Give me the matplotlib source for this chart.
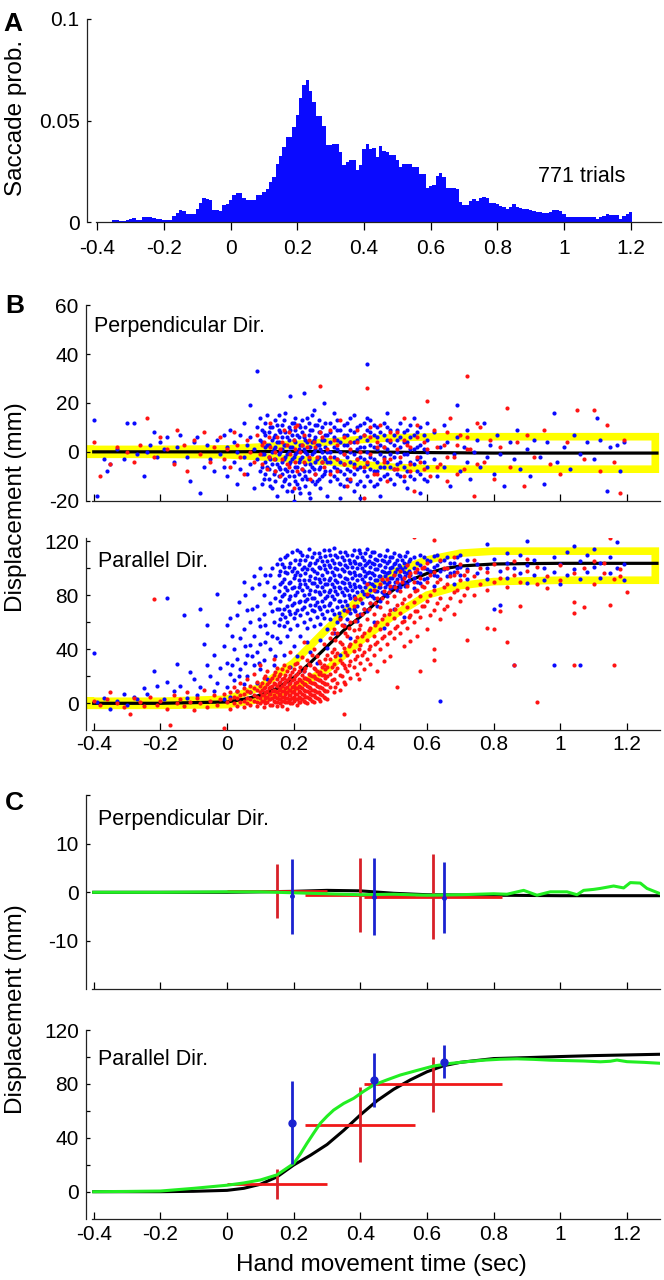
import matplotlib
matplotlib.use("Agg")
import matplotlib.pyplot as plt
import numpy as np

plt.rcParams["font.family"] = ["Liberation Sans", "DejaVu Sans"]

BLUE = "#0a0aff"
RED = "#ff1414"
GREEN = "#22ee22"
YELLOW = "#ffff00"

# ---------------- panel A : saccade probability histogram ----------------
hist_centers = np.round(np.arange(-0.35, 1.2051, 0.01), 2)
hist_prob = [
    0.0011, 0.0011, 0.0005, 0.0005, 0.0012, 0.0015, 0.0020, 0.0012, 0.0012, 0.0024,
    0.0025, 0.0025, 0.0022, 0.0018, 0.0018, 0.0010, 0.0010, 0.0010, 0.0030, 0.0045,
    0.0060, 0.0055, 0.0040, 0.0040, 0.0042, 0.0064, 0.0093, 0.0118, 0.0115, 0.0110,
    0.0060, 0.0060, 0.0056, 0.0085, 0.0090, 0.0110, 0.0134, 0.0146, 0.0145, 0.0118,
    0.0110, 0.0110, 0.0110, 0.0134, 0.0134, 0.0150, 0.0162, 0.0200, 0.0225, 0.0285,
    0.0326, 0.0372, 0.0420, 0.0420, 0.0467, 0.0528, 0.0610, 0.0675, 0.0700, 0.0646,
    0.0593, 0.0525, 0.0525, 0.0474, 0.0380, 0.0380, 0.0384, 0.0384, 0.0348, 0.0282,
    0.0298, 0.0307, 0.0307, 0.0257, 0.0282, 0.0360, 0.0384, 0.0360, 0.0364, 0.0323,
    0.0375, 0.0352, 0.0348, 0.0331, 0.0331, 0.0307, 0.0274, 0.0287, 0.0287, 0.0287,
    0.0274, 0.0274, 0.0238, 0.0238, 0.0167, 0.0180, 0.0184, 0.0230, 0.0244, 0.0225,
    0.0167, 0.0167, 0.0167, 0.0164, 0.0102, 0.0085, 0.0085, 0.0107, 0.0113, 0.0107,
    0.0118, 0.0126, 0.0118, 0.0097, 0.0097, 0.0089, 0.0080, 0.0074, 0.0064, 0.0077,
    0.0089, 0.0077, 0.0069, 0.0066, 0.0064, 0.0061, 0.0057, 0.0052, 0.0052, 0.0044,
    0.0044, 0.0052, 0.0061, 0.0061, 0.0056, 0.0041, 0.0028, 0.0028, 0.0028, 0.0028,
    0.0028, 0.0028, 0.0028, 0.0028, 0.0028, 0.0018, 0.0028, 0.0033, 0.0039, 0.0038,
    0.0038, 0.0038, 0.0018, 0.0033, 0.0041, 0.0051,
]

# ---------------- panel B : single trial saccade end points ----------------
perp_blue = [
    (-0.40, 13), (-0.39, -18), (-0.37, -3), (-0.36, -8), (-0.35, -5), (-0.33, 1), (-0.31, -3),
    (-0.30, 12), (-0.28, 12), (-0.27, -1), (-0.25, -10), (-0.24, 0), (-0.23, 3), (-0.22, 8),
    (-0.21, -2), (-0.20, 4), (-0.19, 1), (-0.18, 6), (-0.16, -4), (-0.15, 2), (-0.14, 7),
    (-0.12, -2), (-0.11, -12), (-0.10, 4), (-0.09, 6), (-0.08, -17), (-0.07, -6), (-0.06, 3),
    (-0.05, -3), (-0.04, -8), (-0.03, 5), (-0.02, -1), (-0.01, 7), (-0.01, -6),
    (0.00, -10), (0.00, 2), (0.01, 9), (0.02, -4), (0.02, 4), (0.03, -13), (0.03, 0), (0.04, 7),
    (0.04, -7), (0.05, 12), (0.05, -2), (0.06, 3), (0.06, -9), (0.07, 19), (0.07, -5), (0.07, 6),
    (0.08, -15), (0.08, 1), (0.09, 10), (0.09, -3), (0.09, 33), (0.10, -8), (0.10, 5), (0.10, 14),
    (0.11, -1), (0.11, 8), (0.11, -11), (0.12, 3), (0.12, -6), (0.12, 15), (0.13, -3), (0.13, 10),
    (0.13, -14), (0.14, 1), (0.14, 6), (0.14, -9), (0.15, -5), (0.15, 4), (0.15, 11), (0.15, -18),
    (0.16, 0), (0.16, -7), (0.16, 8), (0.17, -3), (0.17, 3), (0.17, -12), (0.17, 13), (0.18, -1),
    (0.18, 6), (0.18, -8), (0.18, -16), (0.19, 2), (0.19, -4), (0.19, 9), (0.19, 23), (0.20, -2),
    (0.20, 5), (0.20, -10), (0.20, 12), (0.20, -20), (0.21, 0), (0.21, -6), (0.21, 7), (0.21, -13),
    (0.22, 3), (0.22, -3), (0.22, 10), (0.22, -17), (0.23, 1), (0.23, -8), (0.23, 6), (0.23, 24),
    (0.24, -1), (0.24, 4), (0.24, -11), (0.24, 14), (0.25, 2), (0.25, -5), (0.25, 9), (0.25, -19),
    (0.26, 0), (0.26, -7), (0.26, 5), (0.26, 17), (0.27, -3), (0.27, 3), (0.27, -12), (0.27, 11),
    (0.28, 1), (0.28, -6), (0.28, 8), (0.28, -15), (0.29, -2), (0.29, 5), (0.29, -9), (0.29, 20),
    (0.30, 0), (0.30, -4), (0.30, 7), (0.30, -18),
    (0.32, -10), (0.32, -6), (0.32, -2), (0.32, 2), (0.32, 6), (0.32, 10), (0.32, 16),
    (0.34, -13), (0.34, -8), (0.34, -4), (0.34, 0), (0.34, 4), (0.34, 9), (0.34, -19),
    (0.36, -11), (0.36, -7), (0.36, -2), (0.36, 3), (0.36, 7), (0.36, 12),
    (0.38, -9), (0.38, -5), (0.38, -1), (0.38, 4), (0.38, 8), (0.38, 15), (0.38, -16),
    (0.40, -12), (0.40, -6), (0.40, -2), (0.40, 2), (0.40, 6), (0.40, 11), (0.40, -19),
    (0.42, -10), (0.42, -5), (0.42, 0), (0.42, 5), (0.42, 9), (0.42, 36), (0.42, 14),
    (0.44, -8), (0.44, -3), (0.44, 2), (0.44, 7), (0.44, -14), (0.44, 11),
    (0.46, -11), (0.46, -6), (0.46, -1), (0.46, 3), (0.46, 8), (0.46, -18),
    (0.48, -9), (0.48, -4), (0.48, 1), (0.48, 5), (0.48, 10), (0.48, 16),
    (0.50, -7), (0.50, -2), (0.50, 3), (0.50, -13), (0.50, 7),
    (0.52, -10), (0.52, -4), (0.52, 2), (0.52, 6), (0.52, 12),
    (0.54, -8), (0.54, -1), (0.54, 4), (0.54, -15), (0.54, 9),
    (0.56, -5), (0.56, 1), (0.56, 7), (0.56, -11), (0.56, 14),
    (0.58, -9), (0.58, -2), (0.58, 3), (0.58, 10), (0.58, -17),
    (0.60, -6), (0.60, 0), (0.60, 5), (0.60, -12), (0.60, 12),
    (0.62, -3), (0.62, 8), (0.63, -10), (0.64, 2), (0.65, -6), (0.65, 11), (0.66, 4), (0.67, -14),
    (0.68, -1), (0.69, 19), (0.69, 6), (0.70, -8), (0.71, 2), (0.72, 9), (0.72, -4), (0.73, -11),
    (0.74, 0), (0.75, 5), (0.76, -6), (0.77, 12), (0.78, -2), (0.79, 3), (0.80, -9), (0.81, 7),
    (0.82, -1), (0.83, -14), (0.85, 4), (0.86, -3), (0.87, 9), (0.88, -7), (0.90, 1), (0.91, -10),
    (0.92, 5), (0.94, -2), (0.95, -13), (0.96, 4), (0.98, 16), (0.99, -4), (1.01, 2), (1.03, -7),
    (1.04, 7), (1.06, -1), (1.08, 4), (1.10, -3), (1.11, 14), (1.12, 5), (1.14, -16), (1.15, 2),
    (1.17, 3), (1.18, -8), (1.19, 4),
]
perp_blue_cols = [
    (0.105, [-6, -1, 4, 9, -13]), (0.115, [-4, 2, 7, -9, 12]), (0.125, [-7, -2, 3, 8, -11]),
    (0.135, [-5, 0, 5, 10, -15]), (0.145, [-8, -3, 2, 7, 13, -12]),
    (0.155, [-6, -1, 4, 9, -10, 15]), (0.165, [-9, -4, 1, 6, 11, -14]),
    (0.175, [-7, -2, 3, 8, -11, 16]), (0.185, [-10, -5, 0, 5, 10, -13]),
    (0.195, [-8, -3, 2, 7, 12, -16]), (0.205, [-6, -1, 4, 9, -12, 14]),
    (0.215, [-9, -4, 1, 6, 11, -15]), (0.225, [-7, -2, 3, 8, 13, -11]),
    (0.235, [-10, -5, 0, 5, 10, -14]), (0.245, [-8, -3, 2, 7, 12, -17]),
    (0.255, [-6, -1, 4, 9, -12, 15]), (0.265, [-9, -4, 1, 6, 11, -13]),
    (0.275, [-7, -2, 3, 8, -11, 13]), (0.285, [-10, -4, 0, 5, 10]),
    (0.295, [-8, -3, 2, 7, 12]), (0.31, [-12, -8, -4, 0, 4, 8, 12]),
    (0.33, [-11, -7, -3, 1, 5, 9, 13]), (0.35, [-14, -9, -5, -1, 3, 7, 11]),
    (0.37, [-12, -8, -4, 0, 4, 9, 14]), (0.39, [-13, -7, -3, 1, 5, 10]),
    (0.41, [-14, -8, -3, 2, 7, 12]), (0.43, [-12, -7, -2, 3, 8, 13]),
    (0.45, [-13, -8, -4, 1, 6, 10]), (0.47, [-10, -6, -2, 2, 7, 12]),
    (0.49, [-11, -6, -1, 4, 9]), (0.51, [-9, -5, 0, 5, 9]), (0.53, [-12, -6, -1, 4, 8]),
    (0.55, [-10, -4, 1, 6, 11]), (0.57, [-8, -3, 2, 8]), (0.59, [-11, -4, 1, 7]),
]
perp_red = [
    (-0.40, 4), (-0.38, -10), (-0.35, -5), (-0.33, 2), (-0.30, 0), (-0.28, -4), (-0.26, 3),
    (-0.24, 14), (-0.22, -2), (-0.20, 6), (-0.18, 1), (-0.16, -5), (-0.15, 9), (-0.13, 3),
    (-0.12, -8), (-0.10, 5), (-0.08, -1), (-0.07, 8), (-0.05, -4), (-0.04, 2), (-0.02, 6),
    (-0.01, -3), (0.00, 1), (0.01, -6), (0.02, 8), (0.03, 3), (0.04, -2), (0.05, -9), (0.06, 5),
    (0.07, 0), (0.08, -4), (0.09, 7), (0.10, -1), (0.11, 4), (0.12, -7), (0.13, 2), (0.13, 12),
    (0.14, -3), (0.15, 6), (0.16, -10), (0.16, 1), (0.17, 9), (0.18, -5), (0.18, 3), (0.19, -1),
    (0.20, -15), (0.20, 5), (0.21, -8), (0.21, 11), (0.22, 0), (0.23, -4), (0.23, 7), (0.24, 2),
    (0.25, -11), (0.26, 4), (0.27, -2), (0.28, 27), (0.28, 8), (0.29, -6), (0.30, 1), (0.31, -9),
    (0.32, 5), (0.33, -3), (0.34, 13), (0.35, -1), (0.36, -14), (0.37, 4), (0.38, -6), (0.39, 9),
    (0.40, 0), (0.41, -19), (0.42, 26), (0.42, -4), (0.43, 6), (0.44, -9), (0.45, 2), (0.46, 11),
    (0.47, -3), (0.48, -12), (0.49, 5), (0.50, -7), (0.51, 8), (0.52, -2), (0.53, 14), (0.54, 3),
    (0.55, -8), (0.56, -16), (0.57, 6), (0.58, -4), (0.60, 21), (0.60, 1), (0.61, -10), (0.62, 9),
    (0.64, -5), (0.65, 3), (0.66, -12), (0.67, 14), (0.68, -2), (0.70, 7), (0.71, -7), (0.72, 31),
    (0.73, 1), (0.74, -18), (0.76, 10), (0.77, -4), (0.79, 5), (0.80, -11), (0.82, 2), (0.84, 18),
    (0.85, -6), (0.87, 4), (0.89, -14), (0.90, 7), (0.92, -2), (0.95, 9), (0.97, -5), (1.00, -9),
    (1.02, 4), (1.05, 17), (1.07, -3), (1.10, 17), (1.12, -8), (1.14, 11), (1.16, -4),
    (1.18, -17), (1.19, 5),
]
perp_red_cols = [
    (0.105, [3, -5]), (0.125, [-2, 6]), (0.145, [0, -8]), (0.165, [4, -3]), (0.185, [-6, 8]),
    (0.205, [1, -4, 10]), (0.225, [-7, 3]), (0.245, [5, -2]), (0.265, [-9, 2]),
    (0.285, [6, -4]), (0.31, [-2, 9]), (0.33, [3, -8]), (0.35, [-5, 6]), (0.37, [1, -11]),
    (0.39, [-3, 4]), (0.41, [7, -6]), (0.43, [-1, 10]), (0.45, [4, -9]), (0.47, [-4, 2]),
    (0.49, [8, -3]), (0.51, [-7, 1]), (0.53, [5, -10]), (0.55, [2, -5]), (0.57, [-2, 11]),
    (0.59, [4, -7]), (0.63, [2, -6]), (0.66, [8, -2]), (0.69, [-9, 3]), (0.72, [1, 6]),
    (0.75, [-5, 12]),
]

# parallel direction: sparse points as (t, y), dense part as columns (t, [y ...])
par_blue_pts = [
    (-0.40, 37), (-0.39, 1), (-0.37, 4), (-0.35, -4), (-0.33, 2), (-0.31, 7), (-0.30, -1),
    (-0.28, 5), (-0.27, 3), (-0.25, 11), (-0.24, 7), (-0.22, 24), (-0.21, 13), (-0.19, 3),
    (-0.18, 78), (-0.18, 16), (-0.16, 9), (-0.15, 29), (-0.14, 13), (-0.13, 65), (-0.12, 4),
    (-0.11, 23), (-0.10, 18), (-0.09, 6), (-0.08, 70), (-0.08, 12), (-0.07, 44), (-0.06, 58),
    (-0.06, 28), (-0.05, 20), (-0.04, 9), (-0.04, 36), (-0.03, 81), (-0.03, 15), (-0.02, 26),
    (-0.01, 42), (-0.01, 3),
    (0.00, 58), (0.00, 30), (0.00, 12), (0.01, 63), (0.01, 22), (0.01, 5), (0.02, 40), (0.02, 17),
    (0.03, 65), (0.03, 33), (0.03, 9), (0.04, 48), (0.04, 25), (0.05, 90), (0.05, 14), (0.05, 55),
    (0.06, 36), (0.06, 69), (0.06, 20), (0.07, 43), (0.07, 8), (0.07, 60), (0.08, 94), (0.08, 28),
    (0.08, 50), (0.09, 72), (0.09, 38), (0.09, 15), (0.10, 100), (0.10, 57), (0.10, 25),
    (0.10, 44), (0.11, 80), (0.11, 32), (0.11, 66), (0.12, 90), (0.12, 52), (0.12, 18),
    (0.13, 95), (0.13, 40), (0.13, 74), (0.14, 60), (0.14, 28), (0.14, 86), (0.15, 103),
    (0.15, 48), (0.15, 70),
]
par_blue_cols = [
    (0.015, [50, 28]), (0.035, [75, 20]), (0.055, [42, 80, 30]), (0.075, [70, 35, 85]),
    (0.095, [62, 88, 30]), (0.115, [45, 95, 58]), (0.135, [68, 50, 100]), (0.145, [78, 35]),
    (0.16, [98, 88, 76, 62, 45, 107]), (0.17, [92, 81, 70, 57, 36, 101]),
    (0.18, [110, 96, 84, 72, 60, 50]), (0.19, [104, 90, 79, 66, 27, 55]),
    (0.20, [100, 93, 86, 74, 63, 42]), (0.21, [113, 97, 82, 69, 58, 35]),
    (0.22, [106, 95, 88, 76, 65, 50, 112]), (0.23, [101, 91, 80, 71, 60, 24]),
    (0.24, [109, 99, 86, 77, 67, 56, 45]), (0.25, [104, 94, 84, 73, 62, 38]),
    (0.26, [111, 98, 89, 78, 68, 57]), (0.27, [106, 96, 87, 75, 64, 30]),
    (0.28, [108, 100, 90, 81, 70, 59, 47]), (0.29, [113, 102, 92, 83, 72, 63]),
    (0.30, [105, 97, 88, 79, 68, 55, 41]), (0.31, [110, 101, 93, 84, 74, 62]),
    (0.32, [115, 104, 95, 86, 77, 66, 52]), (0.33, [108, 99, 90, 81, 71, 60]),
    (0.34, [112, 103, 94, 85, 76, 64, 36]), (0.35, [106, 98, 89, 80, 69, 58]),
    (0.36, [110, 101, 92, 84, 73, 62]), (0.37, [104, 96, 87, 78, 67, 48]),
    (0.38, [113, 105, 97, 88, 79, 70]), (0.39, [108, 100, 91, 82, 72, 61]),
    (0.40, [111, 103, 95, 86, 77, 66]), (0.41, [106, 98, 90, 81, 70]),
    (0.42, [114, 104, 96, 88, 79, 68]), (0.43, [109, 101, 93, 84, 74]),
    (0.44, [112, 103, 95, 87, 78, 60]), (0.45, [106, 99, 91, 83, 72]),
    (0.46, [110, 102, 94, 86, 76]), (0.47, [105, 97, 90, 81, 56]),
    (0.48, [113, 104, 96, 88, 79]), (0.49, [108, 100, 93, 85]),
    (0.50, [111, 103, 95, 87, 70]), (0.51, [106, 99, 92, 84]),
    (0.52, [109, 101, 94, 86]), (0.53, [104, 97, 90, 64]),
    (0.54, [112, 103, 96, 88]), (0.56, [108, 100, 93, 85]),
    (0.58, [110, 102, 96, 89]), (0.60, [106, 99, 93]),
    (0.62, [109, 101, 95, 87]), (0.64, [105, 98, 2]),
    (0.66, [108, 100, 94]), (0.68, [104, 97, 88]),
    (0.70, [110, 101, 95]), (0.72, [106, 99, 92]),
    (0.75, [103, 96]), (0.78, [118, 100, 92]), (0.80, [107, 70]), (0.82, [98, 73]),
    (0.84, [111, 93, 104]), (0.86, [100, 28]), (0.88, [110, 96]), (0.90, [120, 102, 89]),
    (0.92, [95, 106]), (0.95, [100, 91]), (0.98, [28, 108, 97]), (1.00, [103, 88]),
    (1.02, [112, 95]), (1.04, [116, 99]), (1.06, [28, 105, 92]), (1.08, [110, 97]),
    (1.10, [114, 101]), (1.12, [93, 104]), (1.15, [108, 96]), (1.17, [119, 100]),
    (1.19, [103, 91]),
    (0.155, [95, 83, 70, 58]), (0.165, [103, 90, 79, 66]), (0.175, [108, 97, 86, 64]),
    (0.185, [101, 89, 77, 68]), (0.195, [112, 98, 85, 73]), (0.205, [106, 95, 80, 67]),
    (0.215, [103, 91, 86, 75]), (0.225, [110, 99, 84, 70]), (0.235, [106, 96, 88, 76]),
    (0.245, [114, 102, 91, 81]), (0.255, [108, 99, 89, 78, 69]), (0.265, [104, 93, 83, 73]),
    (0.275, [111, 101, 92, 82, 71]), (0.285, [105, 95, 86, 76, 66]),
    (0.295, [109, 99, 88, 78]), (0.305, [113, 102, 91, 82, 73]),
    (0.315, [106, 97, 88, 79, 69]), (0.325, [110, 100, 91, 83]),
    (0.335, [104, 95, 86, 76, 67]), (0.345, [108, 99, 90, 82, 72]),
    (0.355, [112, 102, 93, 85, 76]), (0.365, [106, 97, 89, 80, 70]),
    (0.375, [110, 101, 93, 84]), (0.385, [104, 95, 86, 77, 68]),
    (0.395, [113, 103, 95, 87]), (0.405, [108, 100, 92, 83, 74]),
    (0.415, [111, 102, 94, 86]), (0.425, [105, 97, 89, 80]),
    (0.435, [112, 104, 96, 88, 79]), (0.445, [107, 99, 91, 83]),
    (0.455, [110, 102, 94, 86]), (0.465, [106, 98, 91, 82]),
    (0.475, [109, 101, 94, 86]), (0.485, [105, 97, 90, 82]),
    (0.495, [108, 101, 93, 86]), (0.505, [104, 97, 90]), (0.515, [110, 102, 95, 88]),
    (0.525, [106, 99, 92]), (0.535, [109, 101, 94, 87]), (0.545, [105, 98, 91]),
    (0.55, [107, 95]), (0.57, [104, 97, 90]), (0.59, [108, 100, 92]), (0.61, [105, 98]),
    (0.63, [110, 102, 94]), (0.65, [106, 99]), (0.67, [104, 96]), (0.69, [108, 100]),
]
par_red_pts = [
    (-0.40, 2), (-0.38, -1), (-0.36, 3), (-0.35, 8), (-0.33, 0), (-0.31, -3), (-0.29, -8),
    (-0.28, 4), (-0.26, 1), (-0.25, -2), (-0.23, 5), (-0.22, 77), (-0.21, -1), (-0.20, 2),
    (-0.18, -4), (-0.17, -16), (-0.16, 6), (-0.15, 0), (-0.14, 3), (-0.13, -2), (-0.12, 8),
    (-0.11, 1), (-0.10, -5), (-0.09, 4), (-0.08, 0), (-0.07, 10), (-0.06, -3), (-0.05, 2),
    (-0.04, 6), (-0.03, -1), (-0.02, 3), (-0.01, -18), (-0.01, 7), (0.00, 1),
]
par_red_cols = [
    (0.01, [-4, 3, 8]), (0.02, [0, 5, 12]), (0.03, [-2, 4, 9]), (0.04, [1, 6, 15]),
    (0.05, [-3, 2, 7, 11]), (0.06, [0, 4, 9, 18]), (0.07, [-1, 3, 8, 13]),
    (0.08, [2, 6, 11, 22]), (0.09, [-2, 1, 5, 10, 16]), (0.10, [0, 4, 8, 13, 28]),
    (0.11, [-3, 2, 6, 11, 19]), (0.12, [1, 5, 9, 14, 24]), (0.13, [-1, 3, 7, 12, 17]),
    (0.14, [2, 6, 10, 15, 21, 33]), (0.15, [-2, 1, 4, 8, 13, 18, 26]),
    (0.16, [0, 3, 7, 11, 16, 22]), (0.17, [2, 5, 9, 14, 19, 28]),
    (0.18, [-4, 1, 4, 8, 12, 17, 24]), (0.19, [0, 3, 6, 10, 15, 21, 38]),
    (0.20, [2, 5, 9, 13, 18, 25]), (0.21, [-1, 3, 7, 11, 16, 22, 30]),
    (0.22, [1, 4, 8, 12, 17, 27]), (0.23, [2, 6, 10, 14, 19, 24, 45]),
    (0.24, [0, 5, 9, 13, 18, 32]), (0.25, [3, 7, 11, 16, 21, 28]),
    (0.26, [1, 6, 10, 15, 20, 26, 40]), (0.27, [4, 8, 13, 18, 24, 35]),
    (0.28, [2, 7, 12, 17, 23, 30]), (0.29, [5, 10, 15, 21, 28, 44]),
    (0.30, [3, 9, 14, 20, 27, 36]),
    (0.31, [12, 22, 33, 48]), (0.32, [8, 18, 29, 40, 55]), (0.33, [15, 26, 37, 52]),
    (0.34, [10, 21, 32, 45, 62]), (0.35, [16, 28, 41, 57, -8]), (0.36, [24, 36, 50, 68]),
    (0.37, [19, 31, 44, 60]), (0.38, [27, 39, 54, 72]), (0.39, [22, 35, 49, 65]),
    (0.40, [30, 43, 58, 77]), (0.41, [25, 38, 52, 70]), (0.42, [33, 47, 62, 81, 88]),
    (0.43, [29, 42, 56, 74]), (0.44, [36, 50, 66, 84]), (0.45, [24, 45, 60, 78]),
    (0.46, [40, 55, 71, 88]), (0.47, [31, 50, 65, 83]), (0.48, [44, 59, 75, 92]),
    (0.49, [35, 53, 69, 87]), (0.50, [48, 63, 79, 95]), (0.51, [12, 57, 73, 90]),
    (0.52, [52, 67, 83, 98]), (0.53, [42, 61, 77, 93]), (0.54, [56, 71, 87, 102]),
    (0.55, [46, 65, 80, 96]), (0.56, [60, 75, 90, 123]), (0.57, [50, 68, 84, 99]),
    (0.58, [24, 64, 79, 93]), (0.59, [72, 86, 101]), (0.60, [55, 76, 90, 104]),
    (0.62, [32, 40, 69, 84, 97, 121]), (0.64, [62, 78, 92, 106]), (0.66, [72, 88, 100]),
    (0.68, [66, 82, 95, 108]), (0.70, [76, 91, 103]), (0.72, [47, 85, 98]),
    (0.74, [80, 94, 106]), (0.76, [88, 100]), (0.78, [56, 84, 97]), (0.80, [55, 90, 103]),
    (0.82, [68, 93]), (0.84, [45, 86, 100]), (0.86, [28, 95, 105]), (0.88, [72, 90]),
    (0.90, [98, 107]), (0.93, [1, 88, 101]), (0.96, [94, 85]), (1.00, [102, 91]),
    (1.04, [28, 67, 75, 96]), (1.07, [71, 100]), (1.10, [105, 88]), (1.13, [96, 104]),
    (1.15, [122, 73]), (1.16, [28, 92]), (1.18, [99, 94]), (1.20, [82]),
    (0.105, [2, 6, 10, 15]), (0.115, [0, 4, 8, 12, 20]), (0.125, [3, 7, 11, 16]),
    (0.135, [-1, 4, 9, 13, 19]), (0.145, [1, 5, 9, 14, 23]), (0.155, [3, 6, 10, 15, 20]),
    (0.165, [-2, 2, 5, 9, 13, 18, 25]), (0.175, [1, 4, 7, 11, 16, 21]),
    (0.185, [2, 6, 10, 14, 19, 27]), (0.195, [0, 4, 8, 12, 17, 23]),
    (0.205, [3, 7, 11, 15, 20, 29]), (0.215, [1, 5, 9, 13, 18, 24]),
    (0.225, [3, 7, 11, 16, 21, 34]), (0.235, [1, 5, 9, 14, 19, 26]),
    (0.245, [4, 8, 12, 17, 22, 29]), (0.255, [2, 6, 10, 15, 20, 36]),
    (0.265, [5, 9, 14, 19, 25]), (0.275, [3, 8, 12, 17, 22, 31]),
    (0.285, [6, 11, 16, 21, 27]), (0.295, [4, 9, 14, 19, 25, 33]),
    (0.315, [17, 27, 38, 52]), (0.325, [12, 24, 35, 47]), (0.345, [20, 30, 44, 58]),
    (0.355, [14, 26, 38, 52]), (0.365, [28, 42, 56]), (0.385, [33, 46, 61, 78]),
    (0.395, [18, 40, 55]), (0.405, [36, 50, 66]), (0.425, [40, 54, 70]),
    (0.445, [44, 58, 74]), (0.465, [48, 62, 78, 92]), (0.485, [52, 66, 82]),
    (0.505, [56, 70, 86]), (0.525, [60, 74, 90]), (0.545, [64, 79, 94]),
    (0.565, [68, 83, 97]), (0.585, [72, 87, 100]), (0.61, [65, 80, 95]), (0.63, [74, 90]),
    (0.65, [70, 86, 100]), (0.67, [78, 94]), (0.69, [84, 97]), (0.71, [80, 95]),
]

# model curves and envelopes for panel B
perp_model_t = [-0.40, 0.0, 0.2, 0.4, 0.6, 0.8, 1.29]
perp_model_y = [0.0, 0.0, 0.2, 0.0, -0.3, -0.5, -0.5]
band_t = [-0.41, -0.2, 0.0, 0.1, 0.2, 0.3, 0.4, 0.5, 0.6, 0.7, 0.8, 1.0, 1.285]
perp_band_hi = [1.0, 1.0, 1.2, 2.0, 3.0, 4.0, 5.0, 5.8, 6.1, 6.2, 6.2, 6.2, 6.2]
perp_band_lo = [-1.0, -1.0, -1.2, -2.0, -3.0, -4.0, -5.2, -6.3, -6.9, -7.1, -7.1, -7.1, -7.1]
par_band_hi = [1.5, 1.5, 3, 12, 30, 55, 78, 97, 106, 111, 112.5, 112.5, 112.5]
par_band_lo = [-1.5, -1.5, -1, 3, 11, 25, 46, 65, 80, 87, 90, 91, 91]
par_model_t = [-0.4, -0.2, 0.0, 0.05, 0.1, 0.15, 0.2, 0.25, 0.3, 0.35, 0.4, 0.45, 0.5, 0.55,
               0.6, 0.65, 0.7, 0.8, 0.9, 1.0, 1.29]
par_model_y = [0, 0, 1, 3, 6, 11, 19, 30, 42, 54, 64, 75, 84, 91, 96, 99.5, 101.5, 103,
               103.3, 103.5, 103.5]

# ---------------- panel C : averages ----------------
cp_black_t = [-0.4, 0.0, 0.2, 0.3, 0.4, 0.5, 0.6, 0.8, 1.0, 1.3]
cp_black_y = [0, 0, 0.2, 0.4, 0.3, -0.2, -0.5, -0.6, -0.7, -0.7]
cp_green_t = [-0.4, -0.2, 0.0, 0.1, 0.2, 0.3, 0.4, 0.5, 0.6, 0.7, 0.8, 0.84, 0.89, 0.93,
              0.97, 1.02, 1.05, 1.07, 1.1, 1.12, 1.16, 1.19, 1.21, 1.24, 1.26, 1.3]
cp_green_y = [0, 0, 0.1, 0.1, -0.1, -0.3, -0.5, -0.4, -0.6, -0.5, -0.3, -0.4, 0.4, -0.6,
              0.1, 0.1, -0.5, 0.4, 0.6, 0.8, 1.3, 0.9, 2.0, 1.9, 0.8, -0.3]
cl_black_t = [-0.4, -0.2, -0.1, 0.0, 0.05, 0.1, 0.15, 0.2, 0.25, 0.3, 0.35, 0.4, 0.45, 0.5,
              0.55, 0.6, 0.65, 0.7, 0.8, 0.9, 1.0, 1.1, 1.2, 1.3]
cl_black_y = [0, 0, 0.3, 1, 2.5, 5.5, 11, 19.8, 27, 35, 45.5, 57, 67.5, 76, 83, 89, 93.5,
              96, 98.8, 99.5, 100.3, 101, 101.5, 102]
cl_green_t = [-0.4, -0.3, -0.2, -0.1, 0.0, 0.05, 0.1, 0.15, 0.2, 0.22, 0.24, 0.26, 0.28,
              0.3, 0.32, 0.35, 0.38, 0.41, 0.44, 0.48, 0.52, 0.57, 0.62, 0.67, 0.72, 0.77,
              0.82, 0.87, 0.92, 0.97, 1.02, 1.07, 1.12, 1.15, 1.17, 1.2, 1.25, 1.3]
cl_green_y = [0, 0.2, 0.5, 2.5, 4.8, 6.5, 8.7, 12.5, 20.9, 28, 36, 43.5, 50.8, 56, 60.6,
              65.5, 69.3, 74.5, 79.2, 83, 86.6, 90, 93.3, 95.2, 96.5, 97.6, 98.3, 98.6,
              98.2, 97.6, 97.3, 97, 96.4, 96.8, 97.7, 96.5, 96, 95.3]

red_t = [0.15, 0.40, 0.617]
red_terr = [0.15, 0.165, 0.207]
blue_t = [0.195, 0.441, 0.65]
cp_red_y = [0.3, -0.5, -0.9]
cp_red_err = [5.5, 7.65, 8.75]
cp_blue_y = [-0.85, -0.9, -1.1]
cp_blue_err = [7.75, 7.9, 7.3]
cl_red_y = [5.5, 49.7, 79.6]
cl_red_err = [11.1, 27.9, 20.2]
cl_blue_y = [51.2, 82.9, 96.5]
cl_blue_err = [31, 20, 12.4]

xticks = [-0.4, -0.2, 0, 0.2, 0.4, 0.6, 0.8, 1.0, 1.2]
xtick_labels = ["-0.4", "-0.2", "0", "0.2", "0.4", "0.6", "0.8", "1", "1.2"]

TICK_FS = 15
LABEL_FS = 17.5
NOTE_FS = 15.5
DOT = 9

fig = plt.figure(figsize=(6.64, 12.8), dpi=100)
W, H = 664.0, 1280.0


def add_axes(l, r, t, b):
    return fig.add_axes([l / W, 1 - b / H, (r - l) / W, (b - t) / H])


def style(ax, xlim, ylim, yt, ytl, show_x=True, xdir="in", xpad=3.5):
    ax.set_xlim(xlim)
    ax.set_ylim(ylim)
    ax.patch.set_alpha(0)
    for s in ("top", "right"):
        ax.spines[s].set_visible(False)
    for s in ("left", "bottom"):
        ax.spines[s].set_linewidth(0.9)
        ax.spines[s].set_color("#222222")
    ax.spines["bottom"].set_bounds(-0.405, xlim[1])
    ax.set_xticks(xticks)
    ax.set_xticklabels(xtick_labels if show_x else [])
    ax.set_yticks(yt)
    ax.set_yticklabels(ytl)
    ax.tick_params(axis="y", direction="in", length=3, width=0.9, pad=5.5,
                   labelsize=TICK_FS)
    ax.tick_params(axis="x", direction=xdir, length=5, width=0.9, pad=xpad,
                   labelsize=TICK_FS)


def scatter_pts(ax, pts, color):
    arr = np.array(pts, dtype=float)
    ax.scatter(arr[:, 0], arr[:, 1], s=DOT, color=color, linewidths=0, zorder=3)


def scatter_cols(ax, cols, color):
    xs = [t for t, ys in cols for _ in ys]
    ys = [y for _, yl in cols for y in yl]
    ax.scatter(xs, ys, s=DOT, color=color, linewidths=0, zorder=3)


def band(ax, hi, lo):
    xs = list(band_t) + list(band_t[::-1]) + [band_t[0]]
    ys = list(hi) + list(lo[::-1]) + [hi[0]]
    ax.plot(xs, ys, color=YELLOW, lw=5.5, solid_joinstyle="miter", zorder=1,
            clip_on=False)


# ---- A
axA = add_axes(87.3, 660.6, 19.0, 222.3)
axA.stairs(hist_prob, np.append(hist_centers - 0.005, hist_centers[-1] + 0.005),
           fill=True, color=BLUE, linewidth=0)
style(axA, (-0.43, 1.29), (0, 0.1), [0, 0.05, 0.1], ["0", "0.05", "0.1"],
      xdir="out", xpad=6)
axA.tick_params(axis="x", length=6)
axA.text(0.923, 0.020, "771 trials", fontsize=NOTE_FS, ha="left", va="baseline")

# ---- B perpendicular
axB1 = add_axes(86.4, 660.3, 305.3, 500.7)
band(axB1, perp_band_hi, perp_band_lo)
axB1.plot(perp_model_t, perp_model_y, color="black", lw=2.3, zorder=2)
scatter_pts(axB1, perp_blue, BLUE)
scatter_cols(axB1, perp_blue_cols, BLUE)
scatter_pts(axB1, perp_red, RED)
scatter_cols(axB1, perp_red_cols, RED)
style(axB1, (-0.422, 1.30), (-20, 60), [-20, 0, 20, 40, 60],
      ["-20", "0", "20", "40", "60"], show_x=False)
axB1.text(-0.40, 49, "Perpendicular Dir.", fontsize=NOTE_FS, ha="left", va="baseline")

# ---- B parallel
axB2 = add_axes(86.4, 660.3, 538.3, 730.35)
band(axB2, par_band_hi, par_band_lo)
axB2.plot(par_model_t, par_model_y, color="black", lw=2.3, zorder=2)
scatter_pts(axB2, par_blue_pts, BLUE)
scatter_cols(axB2, par_blue_cols, BLUE)
scatter_pts(axB2, par_red_pts, RED)
scatter_cols(axB2, par_red_cols, RED)
style(axB2, (-0.422, 1.30), (-20, 122), [0, 20, 40, 60, 80, 100, 120],
      ["0", "", "40", "", "80", "", "120"])
axB2.text(-0.386, 101, "Parallel Dir.", fontsize=NOTE_FS, ha="left", va="baseline")

# ---- C perpendicular
axC1 = add_axes(86.4, 660.3, 795.3, 989.3)
axC1.plot(cp_black_t, cp_black_y, color="black", lw=2.2, zorder=2)
axC1.errorbar(red_t, cp_red_y, xerr=red_terr, fmt="none", ecolor="#f01818",
              elinewidth=2.0, zorder=3)
axC1.errorbar(red_t, cp_red_y, yerr=cp_red_err, fmt="none", ecolor="#d82028",
              elinewidth=2.0, zorder=3)
axC1.plot(cp_green_t, cp_green_y, color=GREEN, lw=2.2, zorder=4)
axC1.errorbar(blue_t, cp_blue_y, yerr=cp_blue_err, fmt="o", ms=2.5, color="#1a22d0",
              ecolor="#1a22d0", elinewidth=2.0, zorder=5)
style(axC1, (-0.422, 1.30), (-20, 20), [-10, 0, 10, 20], ["-10", "0", "10", ""],
      show_x=False)
axC1.text(-0.387, 13.8, "Perpendicular Dir.", fontsize=NOTE_FS, ha="left", va="baseline")

# ---- C parallel
axC2 = add_axes(86.4, 660.3, 1030.0, 1218.65)
axC2.plot(cl_black_t, cl_black_y, color="black", lw=2.2, zorder=2)
axC2.errorbar(red_t, cl_red_y, xerr=red_terr, fmt="none", ecolor="#f01818",
              elinewidth=2.0, zorder=3)
axC2.errorbar(red_t, cl_red_y, yerr=cl_red_err, fmt="none", ecolor="#d82028",
              elinewidth=2.0, zorder=3)
axC2.plot(cl_green_t, cl_green_y, color=GREEN, lw=2.2, zorder=4)
axC2.errorbar(blue_t, cl_blue_y, yerr=cl_blue_err, fmt="o", ms=5, color="#1a22d0",
              ecolor="#1a22d0", elinewidth=2.0, zorder=5)
style(axC2, (-0.422, 1.30), (-20, 120), [0, 20, 40, 60, 80, 100, 120],
      ["0", "", "40", "", "80", "", "120"], xpad=4.5)
axC2.text(-0.387, 94, "Parallel Dir.", fontsize=NOTE_FS, ha="left", va="baseline")

# ---- labels and panel letters
fig.text(16 / W, 1 - 118 / H, "Saccade prob.", rotation=90, fontsize=LABEL_FS,
         ha="center", va="center")
fig.text(16 / W, 1 - 507 / H, "Displacement (mm)", rotation=90, fontsize=LABEL_FS,
         ha="center", va="center")
fig.text(16 / W, 1 - 1009 / H, "Displacement (mm)", rotation=90, fontsize=LABEL_FS,
         ha="center", va="center")
fig.text(381.6 / W, 1 - 1265 / H, "Hand movement time (sec)", fontsize=LABEL_FS,
         ha="center", va="center")
for letter, (lx, ly) in {"A": (3, 31), "B": (5, 313), "C": (5, 810)}.items():
    fig.text(lx / W, 1 - ly / H, letter, fontsize=19, fontweight="bold",
             ha="left", va="baseline")

fig.savefig("out.png", dpi=100)
